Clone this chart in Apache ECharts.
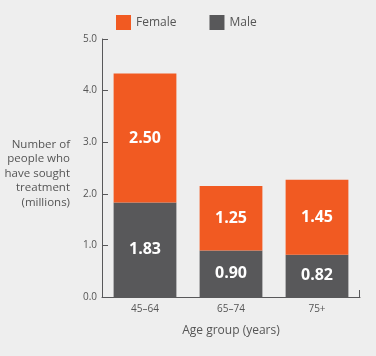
<!DOCTYPE html>
<html><head><meta charset="utf-8">
<script src="https://cdn.jsdelivr.net/npm/echarts@6/dist/echarts.min.js"></script>
<style>html,body{margin:0;padding:0;background:#eeeeee;}#c{width:376px;height:356px;}</style>
</head><body><div id="c"></div>
<script>
const categories = ['45–64', '65–74', '75+'];
const femaleValues = [2.50, 1.25, 1.45];
const maleValues = [1.83, 0.90, 0.82];
const yTicks = [0, 1, 2, 3, 4, 5];
const yAxisTitle = 'Number of\npeople who\nhave sought\ntreatment\n(millions)';
const xAxisTitle = 'Age group (years)';

const FONT = 'Open Sans';
const AXIS = '#58585a';
const TEXT = '#555555';
const ORANGE = '#f15a22';
const GREY = '#58585a';

const chart = echarts.init(document.getElementById('c'), null, {renderer: 'canvas'});
chart.setOption({
  backgroundColor: '#eeeeee',
  animation: false,
  textStyle: {fontFamily: FONT},
  legend: {
    left: 116, top: 15, padding: 0, itemWidth: 15, itemHeight: 15, itemGap: 33,
    icon: 'rect',
    textStyle: {fontSize: 12, color: TEXT, fontFamily: FONT},
    data: ['Female', 'Male']
  },
  grid: {left: 102, right: 16, top: 39, bottom: 59, containLabel: false},
  xAxis: {
    type: 'category', data: categories,
    name: xAxisTitle, nameLocation: 'middle', nameGap: 28,
    nameTextStyle: {fontSize: 12, color: TEXT, fontFamily: FONT},
    axisLine: {show: true, lineStyle: {color: AXIS, width: 1}},
    axisTick: {show: false},
    axisLabel: {fontSize: 10, color: TEXT, margin: 7, fontFamily: FONT}
  },
  yAxis: {
    type: 'value', min: yTicks[0], max: yTicks[yTicks.length - 1], interval: 1,
    axisLine: {show: true, lineStyle: {color: AXIS, width: 1}},
    axisTick: {show: true, inside: true, length: 6, lineStyle: {color: AXIS, width: 1}},
    splitLine: {show: false},
    axisLabel: {fontSize: 10, color: TEXT, margin: 5, fontFamily: FONT, formatter: v => v.toFixed(1)}
  },
  graphic: [
    {type: 'text', right: 306, top: 137, style: {text: yAxisTitle, fill: TEXT, font: '11.5px "Open Sans"', textAlign: 'right', lineHeight: 14.5}},
    {type: 'line', shape: {x1: 359.5, y1: 290, x2: 359.5, y2: 297}, style: {stroke: AXIS, lineWidth: 1}}
  ],
  series: [
    {
      name: 'Male', type: 'bar', stack: 'total', data: maleValues, barWidth: '73%',
      itemStyle: {color: GREY},
      label: {show: true, position: 'inside', color: '#fff', fontSize: 16, fontWeight: 'bold', fontFamily: FONT, formatter: p => p.value.toFixed(2)}
    },
    {
      name: 'Female', type: 'bar', stack: 'total', data: femaleValues, barWidth: '73%',
      itemStyle: {color: ORANGE},
      label: {show: true, position: 'inside', color: '#fff', fontSize: 16, fontWeight: 'bold', fontFamily: FONT, formatter: p => p.value.toFixed(2)}
    }
  ]
});
</script></body></html>
